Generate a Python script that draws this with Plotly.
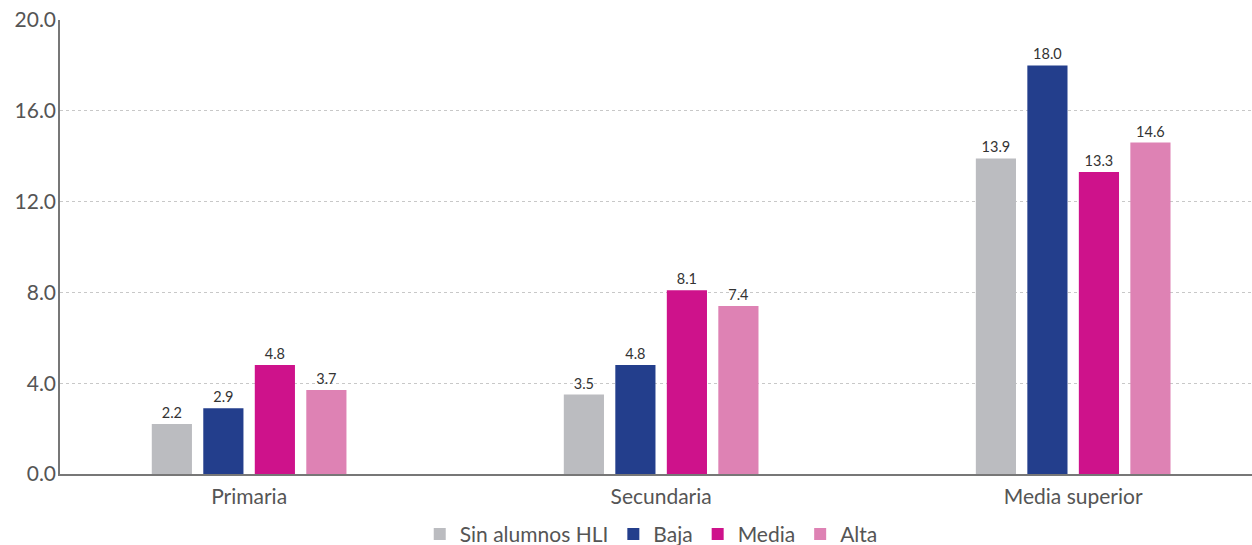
import plotly.graph_objects as go

categories = ["Primaria", "Secundaria", "Media superior"]
series_names = ["Sin alumnos HLI", "Baja", "Media", "Alta"]
sin_hli = [2.2, 3.5, 13.9]
baja = [2.9, 4.8, 18.0]
media = [4.8, 8.1, 13.3]
alta = [3.7, 7.4, 14.6]
colors = ["#BBBCC0", "#233E8C", "#CE128B", "#DE82B4"]
y_ticks = [0, 4, 8, 12, 16, 20]

fig = go.Figure()
for name, vals, col in zip(series_names, [sin_hli, baja, media, alta], colors):
    fig.add_trace(go.Bar(
        x=categories, y=vals, name=name,
        marker=dict(color=col, line=dict(width=0)),
        texttemplate="%{y:.1f}", textposition="outside",
        textfont=dict(size=14.5, color="#333333"),
        cliponaxis=False,
    ))

fig.update_layout(
    width=1252, height=545,
    margin=dict(l=60, r=0, t=20, b=71, autoexpand=False),
    paper_bgcolor="white", plot_bgcolor="white",
    font=dict(family="Lato", color="#555555"),
    barmode="group", bargap=0.5, bargroupgap=0.22,
    showlegend=True,
    legend=dict(orientation="h", x=0.496, xanchor="center", y=-0.133, yanchor="middle",
                font=dict(size=21, color="#555555"), traceorder="normal",
                itemwidth=30, tracegroupgap=0),
    xaxis=dict(range=[-0.459, 2.434], showline=True, linecolor="#777777", linewidth=1.5,
               ticks="", tickfont=dict(size=21, color="#555555"), showgrid=False,
               automargin=False, ticklabelstandoff=3),
    yaxis=dict(range=[0, 20], tickvals=y_ticks, tickformat=".1f",
               showline=True, linecolor="#777777", linewidth=1.5,
               showgrid=True, gridcolor="#C8C8C8", griddash="dot", gridwidth=1,
               zeroline=False, tickfont=dict(size=21, color="#555555"), ticklabelstandoff=-2,
               automargin=False),
)

fig.write_html("out.html", config={"displayModeBar": False},
               post_script="document.body.style.margin='0';")
